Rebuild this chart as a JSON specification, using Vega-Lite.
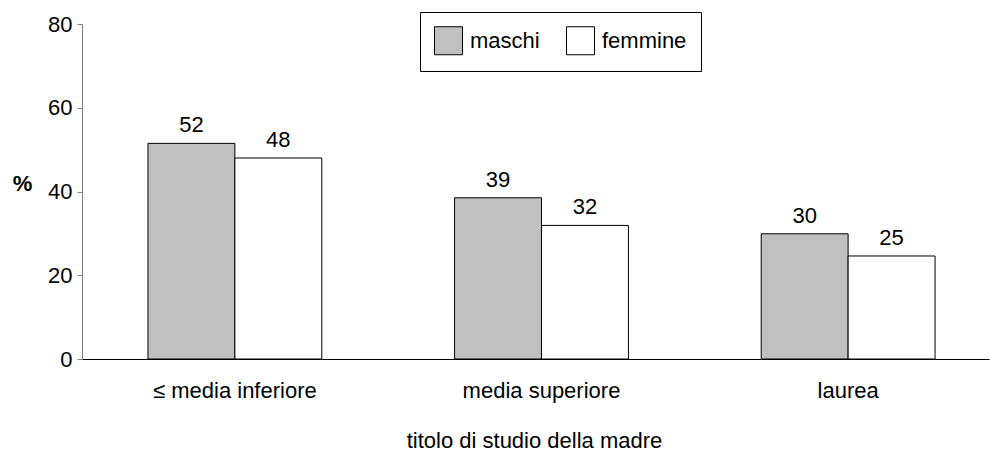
{
  "$schema": "https://vega.github.io/schema/vega-lite/v6.json",
  "width": 907,
  "height": 335,
  "autosize": {"type": "none"},
  "padding": {"left": 82, "top": 24, "right": 1, "bottom": 94},
  "background": "white",
  "config": {
    "font": "Liberation Sans",
    "view": {"stroke": null}
  },
  "data": {
    "values": [
      {"titolo": "≤ media inferiore", "sesso": "maschi", "pct": 51.5},
      {"titolo": "≤ media inferiore", "sesso": "femmine", "pct": 48.0},
      {"titolo": "media superiore", "sesso": "maschi", "pct": 38.5},
      {"titolo": "media superiore", "sesso": "femmine", "pct": 31.9},
      {"titolo": "laurea", "sesso": "maschi", "pct": 29.9},
      {"titolo": "laurea", "sesso": "femmine", "pct": 24.6}
    ]
  },
  "encoding": {
    "x": {
      "field": "titolo",
      "type": "nominal",
      "sort": ["≤ media inferiore", "media superiore", "laurea"],
      "scale": {"paddingInner": 0.433, "paddingOuter": 0.1955, "align": 0.55},
      "axis": {
        "title": "titolo di studio della madre",
        "titleFontSize": 22,
        "titleFontWeight": "normal",
        "titleColor": "black",
        "titleX": 452,
        "titleY": 81,
        "titleAlign": "center",
        "titleBaseline": "middle",
        "labelAngle": 0,
        "labelFontSize": 22,
        "labelColor": "black",
        "labelBaseline": "middle",
        "labelPadding": 31,
        "ticks": false,
        "tickSize": 0,
        "domainColor": "black",
        "domainWidth": 1
      }
    },
    "xOffset": {
      "field": "sesso",
      "type": "nominal",
      "sort": ["maschi", "femmine"],
      "scale": {"paddingInner": 0, "paddingOuter": 0}
    },
    "y": {
      "field": "pct",
      "type": "quantitative",
      "scale": {"domain": [0, 80]},
      "axis": {
        "values": [0, 20, 40, 60, 80],
        "grid": false,
        "title": "%",
        "titleAngle": 0,
        "titleFontSize": 22,
        "titleFontWeight": "bold",
        "titleColor": "black",
        "titleX": -60,
        "titleY": 159,
        "titleAlign": "center",
        "titleBaseline": "middle",
        "labelFontSize": 22,
        "labelColor": "black",
        "labelPadding": 5,
        "tickSize": 5,
        "tickColor": "#808080",
        "domainColor": "#808080"
      }
    }
  },
  "layer": [
    {
      "mark": {"type": "bar", "stroke": "black", "strokeWidth": 1},
      "encoding": {
        "fill": {
          "field": "sesso",
          "type": "nominal",
          "sort": ["maschi", "femmine"],
          "scale": {"domain": ["maschi", "femmine"], "range": ["#c0c0c0", "#ffffff"]},
          "legend": {
            "orient": "none",
            "legendX": 338,
            "legendY": -12,
            "direction": "horizontal",
            "title": null,
            "strokeColor": "black",
            "fillColor": "white",
            "padding": 14,
            "symbolType": "square",
            "symbolSize": 784,
            "symbolStrokeColor": "black",
            "symbolStrokeWidth": 1,
            "labelFontSize": 22,
            "labelColor": "black",
            "labelOffset": 7,
            "columnPadding": 24
          }
        }
      }
    },
    {
      "mark": {"type": "text", "fontSize": 22, "dy": -11, "baseline": "alphabetic", "color": "black"},
      "encoding": {
        "text": {"field": "pct", "type": "quantitative", "format": ".0f"}
      }
    }
  ]
}
